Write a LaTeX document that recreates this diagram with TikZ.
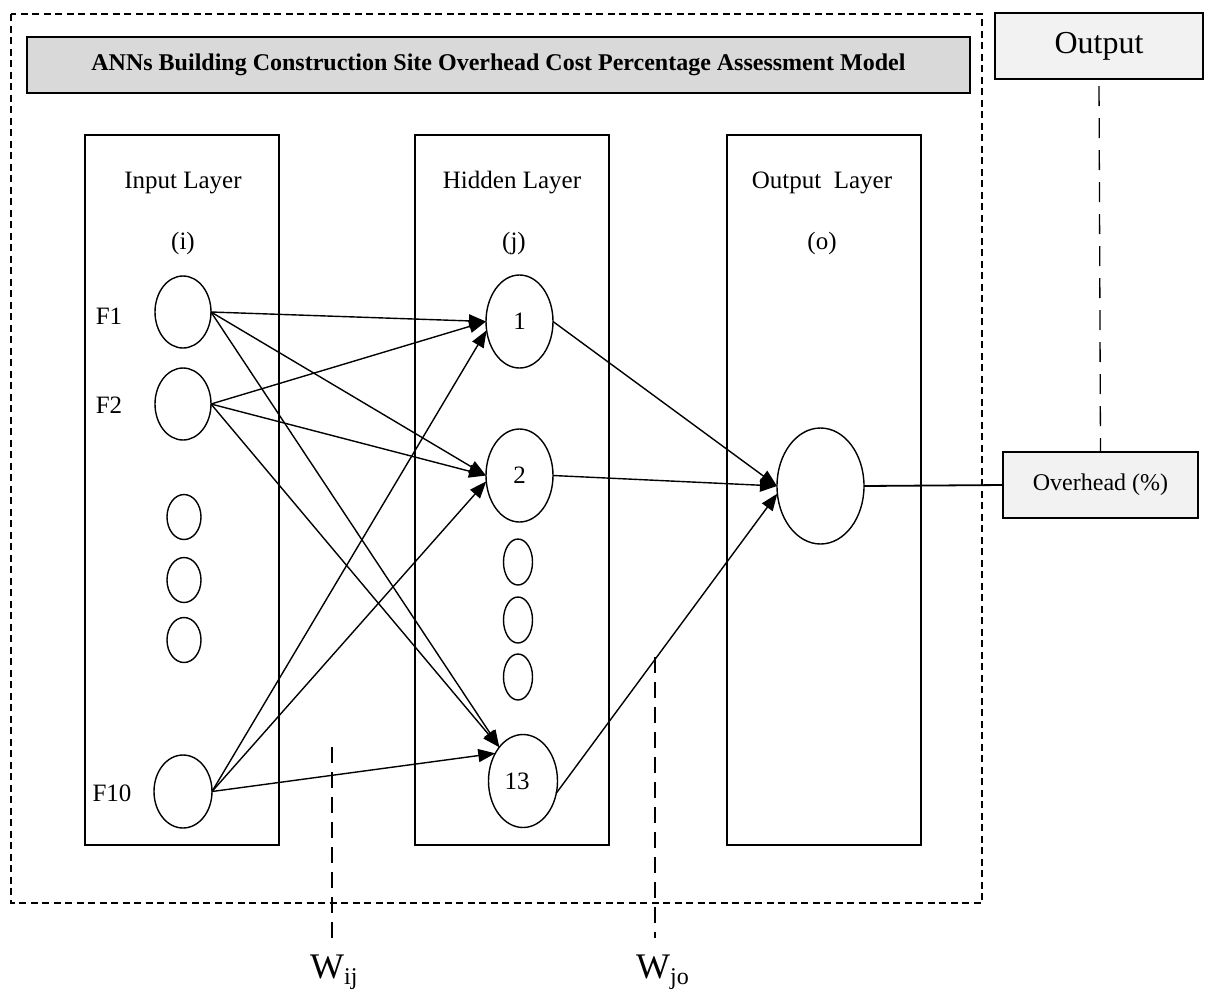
\documentclass[tikz,border=0pt]{standalone}
\usepackage{fontspec}
\setmainfont{Liberation Serif}
\usetikzlibrary{shapes.geometric,arrows.meta}
\definecolor{titlegray}{RGB}{217,217,217}
\definecolor{boxgray}{RGB}{242,242,242}
\begin{document}
\begin{tikzpicture}[x=1pt,y=-1pt,
  nd/.style={draw,ellipse,line width=1.4pt,inner sep=0pt,outer sep=0pt,font=\fontsize{25}{28}\selectfont},
  layerbox/.style={draw,line width=1.4pt,inner sep=0pt,outer sep=0pt,minimum width=194pt,minimum height=710pt},
  con/.style={line width=1.4pt},
  arr/.style={con,-{Triangle[length=17pt,width=13pt]}},
  lab/.style={font=\fontsize{25}{28}\selectfont,inner sep=0pt},
  framedash/.style={line width=1.2pt,dash pattern=on 7pt off 4.5pt},
  wdash/.style={line width=1.3pt,dash pattern=on 16pt off 9pt},
  odash/.style={line width=1.3pt,dash pattern=on 20pt off 12pt},
  graybox/.style={draw,line width=1.6pt,inner sep=0pt,outer sep=0pt}
]
\useasboundingbox (0,0) rectangle (1205,989);

% outer dashed frame
\draw[framedash] (11,14) rectangle (982,903);

% title
\node[graybox,fill=titlegray,line width=2.2pt,minimum width=943pt,minimum height=56pt,font=\fontsize{24}{28}\selectfont\bfseries] (title) at (498.5,65) {ANNs Building Construction Site Overhead Cost Percentage Assessment Model};

% output boxes
\node[graybox,fill=boxgray,minimum width=208pt,minimum height=66pt,font=\fontsize{32}{36}\selectfont] (outbox) at (1099,46) {Output};
\node[graybox,fill=boxgray,minimum width=195pt,minimum height=66pt,font=\fontsize{24}{28}\selectfont] (ovh) at (1100.5,485) {Overhead (\%)};

% layers
\node[layerbox] (inL) at (182,490) {};
\node[layerbox] (hidL) at (512,490) {};
\node[layerbox] (outL) at (824,490) {};

\node[lab] (tin) at (183,183) {Input Layer};
\node[lab] (iin) at (183,243) {(i)};
\node[lab] (thid) at (512,183) {Hidden Layer};
\node[lab] (jhid) at (514,243) {(j)};
\node[lab] (tout) at (822,183) {Output\ \ Layer};
\node[lab] (oout) at (822,243) {(o)};

% input nodes
\node[nd,minimum width=56pt,minimum height=72pt] (F1) at (183,312) {};
\node[nd,minimum width=56pt,minimum height=72pt] (F2) at (183,404) {};
\node[nd,minimum width=34pt,minimum height=45pt] (s1) at (184,517) {};
\node[nd,minimum width=34pt,minimum height=45pt] (s2) at (184,580) {};
\node[nd,minimum width=34pt,minimum height=45pt] (s3) at (184,640) {};
\node[nd,minimum width=58pt,minimum height=73pt] (F10) at (183,791.5) {};
\node[lab] (lF1) at (109,316) {F1};
\node[lab] (lF2) at (109,405) {F2};
\node[lab] (lF10) at (112,793) {F10};

% hidden nodes
\node[nd,minimum width=67pt,minimum height=93pt] (h1) at (519.5,321.5) {1};
\node[nd,minimum width=67pt,minimum height=93pt] (h2) at (519.5,475.5) {2};
\node[nd,minimum width=29pt,minimum height=46pt] (t1) at (518,562) {};
\node[nd,minimum width=29pt,minimum height=46pt] (t2) at (518,620) {};
\node[nd,minimum width=29pt,minimum height=46pt] (t3) at (518,677) {};
\node[nd,minimum width=69pt,minimum height=93pt] (h13) at (523,781) {\hspace*{-12pt}13};

% output node
\node[nd,minimum width=87pt,minimum height=116pt] (o) at (820.5,486) {};

% connections input -> hidden
\draw[arr] (F1.east) -- (h1.west);
\draw[arr] (F2.east) -- (h1.west);
\draw[arr] (F10.east) -- (h1.195);
\draw[arr] (F1.east) -- (h2.west);
\draw[arr] (F2.east) -- (h2.west);
\draw[arr] (F10.east) -- (h2.190);
\draw[arr] (F1.east) -- (h13.125);
\draw[arr] (F2.east) -- (h13.125);
\draw[arr] (F10.east) -- (h13.135);

% hidden -> output
\draw[arr] (h1.east) -- (o.west);
\draw[arr] (h2.east) -- (o.west);
\draw[arr] (h13.-20) -- (o.190);

% output -> overhead
\draw[line width=1.8pt] (o.east) -- (ovh.west);
\draw[odash,shorten <=7pt] (outbox.south) -- (ovh.north);

% weight markers
\coordinate (wija) at (332,747);
\coordinate (wijb) at (332,938);
\coordinate (wjoa) at (655,657);
\coordinate (wjob) at (655,938);
\draw[wdash] (wija) -- (wijb);
\draw[wdash] (wjoa) -- (wjob);
\node[anchor=base west,inner sep=0pt] (wij) at (310,978) {\fontsize{36}{40}\selectfont W\raisebox{-6pt}{\fontsize{24}{28}\selectfont ij}};
\node[anchor=base west,inner sep=0pt] (wjo) at (636,978) {\fontsize{36}{40}\selectfont W\raisebox{-6pt}{\fontsize{24}{28}\selectfont jo}};
\end{tikzpicture}
\end{document}
